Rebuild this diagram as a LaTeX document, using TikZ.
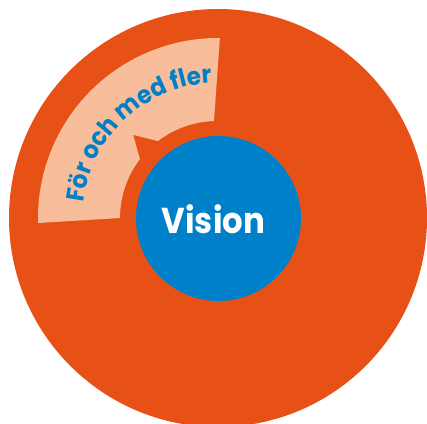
\documentclass[tikz,border=0pt]{standalone}
\usepackage{fontspec}
\usetikzlibrary{decorations.text,calc}
\newfontfamily\vfont{Poppins}[FakeStretch=0.9]
\newfontfamily\afont{Poppins}[FakeStretch=0.93]
\definecolor{vorange}{RGB}{232,81,22}
\definecolor{vpeach}{RGB}{248,190,156}
\definecolor{vblue}{RGB}{0,128,200}
\tikzset{
  disc/.style={circle, inner sep=0pt, draw=none},
  visiontext/.style={text=white, font=\vfont\bfseries\fontsize{36}{36}\selectfont, inner sep=0pt}
}
\begin{document}
\begin{tikzpicture}[x=1pt,y=1pt]
\useasboundingbox (0,0) rectangle (427,423);
\clip (0,0) rectangle (427,423);
\coordinate (C) at (218,205);
\node[disc, fill=vorange, minimum size=418pt] (outer) at (C) {};
% peach sector
\fill[vpeach] ($(C)+(89.4:180)$) arc[start angle=89.4, end angle=181.6, radius=180]
  -- ($(C)+(180:98)$) arc[start angle=180, end angle=91.8, radius=97] -- cycle;
% orange notch (arrow tip)
\coordinate (T) at (133.3,288);
\coordinate (P1) at (160,281.3);
\coordinate (P2) at (140.7,261.3);
\fill[vorange] (T) -- (P1) -- (C) -- (P2) -- cycle;
\node[disc, fill=vblue, minimum size=165pt] (core) at (218.5,204.5) {};
\node[visiontext, anchor=base] (vision) at (213.4,189.7) {Vision};
\path[decorate, decoration={text along path, text align=center,
  text={|\afont\bfseries\fontsize{25}{25}\selectfont\color{vblue}|För och med fler}}]
  ($(C)+(176:135)$) arc[start angle=176, end angle=90, radius=135];
\end{tikzpicture}
\end{document}
